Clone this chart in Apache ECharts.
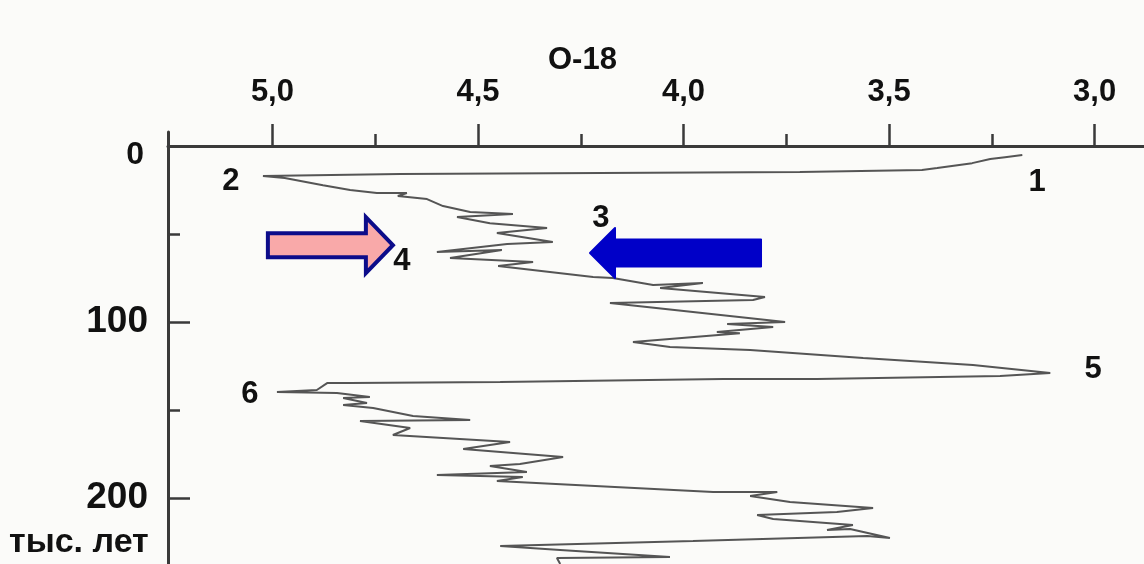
<!DOCTYPE html>
<html>
<head>
<meta charset="utf-8">
<script src="https://cdn.jsdelivr.net/npm/echarts@6/dist/echarts.min.js"></script>
<style>
html, body { margin: 0; padding: 0; background: #fbfbf9; }
#chart { width: 1144px; height: 564px; }
</style>
</head>
<body>
<div id="chart"></div>
<script>
// Oxygen-isotope (O-18) record against age, thousand years, top to bottom
const o18 = [
  3.176, 3.218, 3.254, 3.298, 3.383, 3.420, 3.717, 4.203, 4.690, 5.023,
  4.970, 4.877, 4.811, 4.746, 4.673, 4.695, 4.624, 4.585, 4.519, 4.415,
  4.551, 4.471, 4.332, 4.454, 4.318, 4.429, 4.600, 4.442, 4.568, 4.366,
  4.451, 4.220, 4.172, 4.074, 3.953, 4.057, 3.802, 3.831, 4.179, 4.089,
  3.753, 3.894, 3.782, 3.919, 3.863, 4.123, 4.033, 3.838, 3.563, 3.296,
  3.108, 3.230, 3.675, 3.904, 4.446, 4.811, 4.867, 4.892, 4.989, 4.843,
  4.763, 4.828, 4.770, 4.828, 4.755, 4.658, 4.519, 4.787, 4.665, 4.707,
  4.422, 4.536, 4.293, 4.398, 4.471, 4.381, 4.600, 4.391, 4.454, 3.928,
  3.772, 3.838, 3.741, 3.539, 3.627, 3.821, 3.782, 3.588, 3.651, 3.595,
  3.498, 3.553, 3.977, 4.446, 4.300, 4.033, 4.308, 4.300
];
const ageKyr = [
  5.1, 6.3, 7.4, 9.7, 12.5, 13.6, 14.8, 15.3, 15.9, 17.0,
  18.2, 22.2, 25.0, 26.7, 26.7, 28.4, 30.1, 34.1, 37.5, 38.6,
  40.3, 43.8, 46.6, 49.4, 54.5, 55.7, 60.2, 59.1, 63.6, 65.9,
  68.2, 74.4, 75.0, 79.0, 77.8, 80.7, 85.8, 87.5, 89.2, 91.5,
  100.0, 101.1, 102.8, 105.7, 106.3, 111.4, 114.2, 115.9, 120.5, 124.4,
  129.0, 130.7, 132.4, 132.4, 134.1, 134.7, 134.7, 138.6, 139.8, 140.3,
  142.6, 143.2, 146.0, 147.2, 148.9, 153.4, 155.7, 156.3, 160.2, 164.2,
  168.2, 172.2, 176.7, 180.7, 181.8, 185.2, 186.9, 188.1, 190.3, 196.6,
  196.6, 198.9, 202.3, 205.7, 207.9, 209.7, 211.9, 215.3, 218.2, 217.6,
  222.7, 221.6, 224.4, 227.3, 229.5, 233.5, 234.1, 237.5
];

const o18Ticks = [3.0, 3.5, 4.0, 4.5, 5.0];
const o18MinorTicks = [3.25, 3.75, 4.25, 4.75];
const ageTicks = [0, 100, 200];
const ageMajorTicks = [100, 200];
const ageMinorTicks = [50, 150];

// Numbered isotope stages
const stageNames = ['1', '2', '3', '4', '5', '6'];
const stageO18 = [3.140, 5.101, 4.201, 4.685, 3.004, 5.055];
const stageAge = [20.5, 19.9, 40.9, 65.3, 126.7, 140.9];

// Arrow tips (+1 points right, -1 points left)
const arrowO18 = [4.707, 4.2275];
const arrowAge = [56.3, 60.8];
const arrowDir = [1, -1];

const FONT = "'Liberation Sans', Arial, sans-serif";
const INK = '#111111';
const AXIS = '#3a3a3a';

const curve = o18.map((v, i) => [v, ageKyr[i]]);
const stages = stageNames.map((n, i) => ({ name: n, value: [stageO18[i], stageAge[i]] }));
const arrows = arrowO18.map((v, i) => [v, arrowAge[i], arrowDir[i]]);

const xRange = { min: 2.88, max: 5.254 };
const yRange = { min: -8, max: 237.5 };
const commaFmt = v => Number(v).toFixed(1).replace('.', ',');

const chart = echarts.init(document.getElementById('chart'), null, { renderer: 'canvas' });

chart.setOption({
  backgroundColor: '#fbfbf9',
  animation: false,
  grid: { left: 168, right: 0, top: 132, bottom: 0, containLabel: false },
  xAxis: [
    {
      type: 'value', position: 'top', inverse: true, ...xRange,
      axisLine: { show: true, onZero: true, onZeroAxisIndex: 0, lineStyle: { color: AXIS, width: 3 } },
      axisTick: { show: true, customValues: o18Ticks, length: 22, lineStyle: { color: AXIS, width: 2.5 } },
      axisLabel: { show: true, customValues: o18Ticks, formatter: commaFmt, margin: 24,
                   fontFamily: FONT, fontSize: 31, fontWeight: 'bold', color: INK },
      splitLine: { show: false }
    },
    {
      type: 'value', position: 'top', inverse: true, ...xRange,
      axisLine: { show: false, onZero: true, onZeroAxisIndex: 0 },
      axisTick: { show: true, customValues: o18MinorTicks, length: 12, lineStyle: { color: AXIS, width: 2.5 } },
      axisLabel: { show: false },
      splitLine: { show: false }
    }
  ],
  yAxis: [
    {
      type: 'value', position: 'left', inverse: true, ...yRange,
      axisLine: { show: true, onZero: false, lineStyle: { color: AXIS, width: 3 } },
      axisTick: { show: true, inside: true, customValues: ageMajorTicks, length: 22, lineStyle: { color: AXIS, width: 2.5 } },
      axisLabel: { show: true, customValues: ageTicks, margin: 20,
                   formatter: v => (v === 0 ? '{zero|0}' : String(v)),
                   rich: { zero: { padding: [18, 4, 0, 0], fontFamily: FONT, fontSize: 32, fontWeight: 'bold', color: INK } },
                   fontFamily: FONT, fontSize: 37, fontWeight: 'bold', color: INK },
      splitLine: { show: false }
    },
    {
      type: 'value', position: 'left', inverse: true, ...yRange,
      axisLine: { show: false, onZero: false },
      axisTick: { show: true, inside: true, customValues: ageMinorTicks, length: 12, lineStyle: { color: AXIS, width: 2.5 } },
      axisLabel: { show: false },
      splitLine: { show: false }
    }
  ],
  graphic: [
    { type: 'text', left: 548, top: 45,
      style: { text: 'O-18', fontFamily: FONT, fontSize: 31, fontWeight: 'bold', fill: INK } },
    { type: 'text', left: 9, top: 526,
      style: { text: 'тыс. лет', fontFamily: FONT, fontSize: 34, fontWeight: 'bold', fill: INK } }
  ],
  series: [
    {
      type: 'line', xAxisIndex: 0, yAxisIndex: 0, data: curve,
      showSymbol: false, smooth: false, clip: true,
      lineStyle: { color: '#555555', width: 2 }, z: 2
    },
    {
      type: 'scatter', xAxisIndex: 0, yAxisIndex: 0, data: stages,
      symbolSize: 0, silent: true, z: 3,
      itemStyle: { opacity: 1 },
      label: { show: true, position: 'inside', formatter: p => p.name, opacity: 1,
               fontFamily: FONT, fontSize: 31, fontWeight: 'bold', color: INK }
    },
    {
      type: 'custom', xAxisIndex: 0, yAxisIndex: 0, data: arrows, z: 5, silent: true,
      renderItem: (params, api) => {
        const tip = api.coord([api.value(0), api.value(1)]);
        const dir = api.value(2);
        const tx = tip[0], ty = tip[1];
        if (dir > 0) {
          // outlined pink arrow pointing right
          const hl = 27, len = 125, bh = 12, hh = 28;
          return {
            type: 'polygon',
            shape: { points: [
              [tx, ty], [tx - hl, ty - hh], [tx - hl, ty - bh], [tx - len, ty - bh],
              [tx - len, ty + bh], [tx - hl, ty + bh], [tx - hl, ty + hh]
            ] },
            style: { fill: '#f9a9a9', stroke: '#0c0c8a', lineWidth: 4, lineJoin: 'miter' }
          };
        }
        // solid blue arrow pointing left
        const hl = 25, len = 171, bh = 13.5, hh = 25;
        return {
          type: 'polygon',
          shape: { points: [
            [tx, ty], [tx + hl, ty - hh], [tx + hl, ty - bh], [tx + len, ty - bh],
            [tx + len, ty + bh], [tx + hl, ty + bh], [tx + hl, ty + hh]
          ] },
          style: { fill: '#0000c8', stroke: '#0000c8', lineWidth: 2, lineJoin: 'round' }
        };
      }
    }
  ]
});
</script>
</body>
</html>
